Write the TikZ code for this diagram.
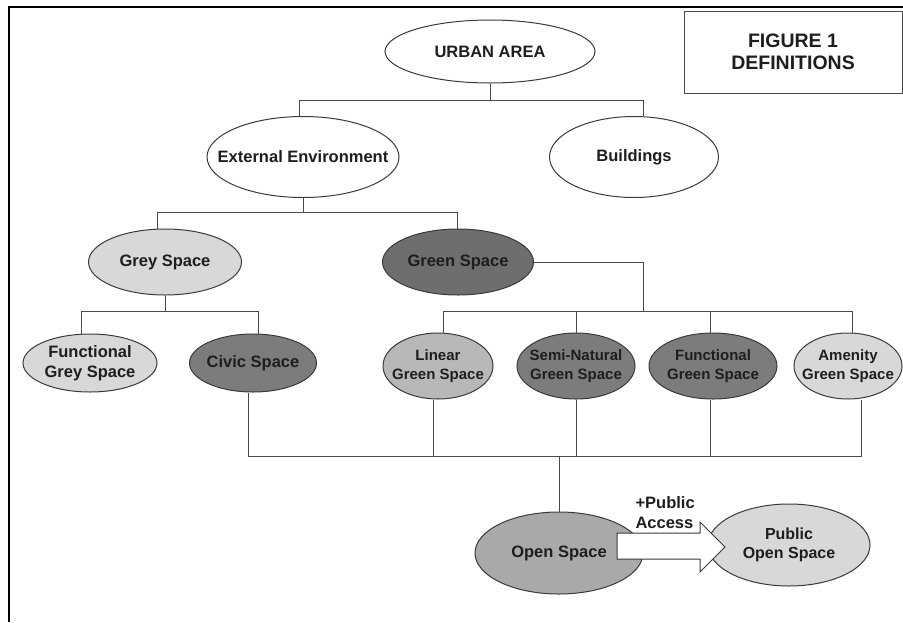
\documentclass[tikz,border=0pt]{standalone}
\usepackage{fontspec}
\setmainfont{Liberation Sans}
\usetikzlibrary{shapes.geometric}

\definecolor{edgegrey}{HTML}{3A3A3A}
\definecolor{linkgrey}{HTML}{4A4A4A}
\definecolor{inkgrey}{HTML}{1E1E1E}
\definecolor{palegrey}{HTML}{D8D8D8}
\definecolor{midgrey}{HTML}{B8B8B8}
\definecolor{opengrey}{HTML}{A9A9A9}
\definecolor{darkgrey}{HTML}{7C7C7C}
\definecolor{deepgrey}{HTML}{6E6E6E}

\begin{document}
\begin{tikzpicture}[x=1pt,y=-1pt,
                    blob/.style={ellipse,draw=edgegrey,line width=1pt,inner sep=0pt},
                    lbl/.style={align=center,text=inkgrey,font=\bfseries\fontsize{16.5}{20}\selectfont},
                    lbls/.style={lbl,font=\bfseries\fontsize{15}{18.5}\selectfont},
                    link/.style={draw=linkgrey,line width=1pt},
                    arrowbox/.style={draw=edgegrey,line width=1pt,fill=white}]
                          \useasboundingbox (0,0) rectangle (903,622);
                          \draw[black,line width=2.5pt] (9,622) -- (9,7) -- (903,7);

                          \node[draw=linkgrey,line width=1pt,fill=white,minimum width=218pt,minimum height=82pt,inner sep=0pt,
                                align=center,text=inkgrey,font=\bfseries\fontsize{19.5}{22}\selectfont] (fig) at (793,52) {FIGURE 1\\DEFINITIONS};

                          \node[blob,fill=white,minimum width=210pt,minimum height=63pt,label={[lbl]center:URBAN AREA}] (urban) at (490,51.5) {};
                          \node[blob,fill=white,minimum width=192pt,minimum height=81pt,label={[lbl]center:External Environment}] (extenv) at (303,157) {};
                          \node[blob,fill=white,minimum width=169pt,minimum height=81pt,label={[lbl]center:Buildings}] (build) at (634,157) {};

                          \node[blob,fill=palegrey,minimum width=153pt,minimum height=66pt,label={[lbl]center:Grey Space}] (grey) at (165,262) {};
                          \node[blob,fill=deepgrey,minimum width=151pt,minimum height=66pt,label={[lbl]center:Green Space}] (green) at (458,262) {};

                          \node[blob,fill=palegrey,minimum width=134pt,minimum height=58pt,label={[lbl]center:{Functional\\Grey Space}}] (fgrey) at (90,363) {};
                          \node[blob,fill=darkgrey,minimum width=127pt,minimum height=58pt,label={[lbl]center:Civic Space}] (civic) at (253,363) {};
                          \node[blob,fill=midgrey,minimum width=110pt,minimum height=66pt,label={[lbls]center:{Linear\\Green Space}}] (linear) at (438,366) {};
                          \node[blob,fill=darkgrey,minimum width=118pt,minimum height=66pt,label={[lbls]center:{Semi-Natural\\Green Space}}] (semi) at (576,366) {};
                          \node[blob,fill=darkgrey,minimum width=128pt,minimum height=66pt,label={[lbls]center:{Functional\\Green Space}}] (fgreen) at (713,366) {};
                          \node[blob,fill=palegrey,minimum width=108pt,minimum height=66pt,label={[lbls]center:{Amenity\\Green Space}}] (amen) at (848,366) {};

                          \node[blob,fill=opengrey,minimum width=168pt,minimum height=82pt,label={[lbl]center:Open Space}] (open) at (559,553) {};
                          \node[blob,fill=palegrey,minimum width=162pt,minimum height=82pt,label={[lbl,font=\bfseries\fontsize{16}{19}\selectfont]center:{Public\\Open Space}}] (popen) at (789,545) {};

                          \coordinate (ua) at (490,100);
                          \coordinate (ea) at (299,100);
                          \coordinate (ba) at (643,100);
                          \coordinate (xa) at (303,212);
                          \coordinate (ga) at (157,212);
                          \coordinate (na) at (457,212);
                          \coordinate (gb) at (165,311);
                          \coordinate (fa) at (81,311);
                          \coordinate (ca) at (258,311);
                          \coordinate (nb) at (643,262);
                          \coordinate (nc) at (643,311);
                          \coordinate (la) at (443,311);
                          \coordinate (sa) at (576,311);
                          \coordinate (fga) at (710,311);
                          \coordinate (aa) at (852,311);
                          \coordinate (cb) at (248,456);
                          \coordinate (lb) at (433,456);
                          \coordinate (sb) at (576,456);
                          \coordinate (fb) at (710,456);
                          \coordinate (ab) at (861,456);
                          \coordinate (ob) at (559,456);

                          \draw[link] (urban) -- (ua);
                          \draw[link] (ea |- extenv.north) -- (ea) -- (ba) -- (ba |- build.north);
                          \draw[link] (extenv) -- (xa);
                          \draw[link] (ga |- grey.north) -- (ga) -- (na) -- (na |- green.north);
                          \draw[link] (grey) -- (gb);
                          \draw[link] (fa |- fgrey.north) -- (fa) -- (ca) -- (ca |- civic.north);
                          \draw[link] (green) -- (nb) -- (nc);
                          \draw[link] (la |- linear.north) -- (la) -- (aa) -- (aa |- amen.north);
                          \draw[link] (sa) -- (sa |- semi.north);
                          \draw[link] (fga) -- (fga |- fgreen.north);
                          \draw[link] (civic.south -| cb) -- (cb) -- (ab) -- (amen.south -| ab);
                          \draw[link] (linear.south -| lb) -- (lb);
                          \draw[link] (semi) -- (sb);
                          \draw[link] (fgreen.south -| fb) -- (fb);
                          \draw[link] (ob) -- (open);

                          \draw[arrowbox] (617,533) -- (700,533) -- (700,522) -- (725,547) -- (700,572) -- (700,559) -- (617,559) -- cycle;
                          \node[lbl,align=left,anchor=west] (acc) at (632,513) {+Public\\Access};
\end{tikzpicture}
\end{document}
